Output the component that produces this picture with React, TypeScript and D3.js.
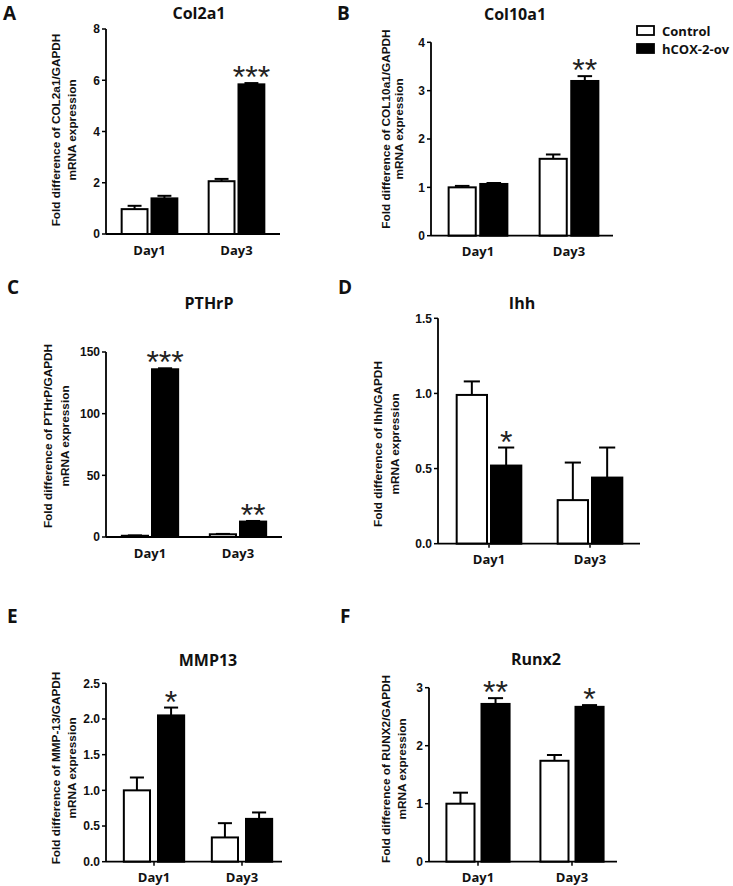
import React from "react";
import * as d3 from "d3";

const days = ["Day1", "Day3"];
const seriesNames = ["Control", "hCOX-2-ov"];
const titles = ["Col2a1", "Col10a1", "PTHrP", "Ihh", "MMP13", "Runx2"];
const letters = ["A", "B", "C", "D", "E", "F"];
const yLabels = [
  "Fold difference of COL2a1/GAPDH",
  "Fold difference of COL10a1/GAPDH",
  "Fold difference of PTHrP/GAPDH",
  "Fold difference of Ihh/GAPDH",
  "Fold difference of MMP-13/GAPDH",
  "Fold difference of RUNX2/GAPDH",
];
const yLabel2 = "mRNA expression";
const controlMean = [[0.97, 2.06], [1.0, 1.59], [1.0, 2.2], [0.99, 0.29], [1.0, 0.34], [1.0, 1.74]];
const controlSem = [[0.13, 0.09], [0.03, 0.09], [0.3, 0.3], [0.09, 0.25], [0.18, 0.2], [0.19, 0.1]];
const hcoxMean = [[1.39, 5.84], [1.07, 3.2], [136, 12.5], [0.52, 0.44], [2.05, 0.6], [2.72, 2.67]];
const hcoxSem = [[0.1, 0.05], [0.02, 0.1], [0.8, 0.5], [0.12, 0.2], [0.11, 0.09], [0.1, 0.03]];
const stars = [["", "***"], ["", "**"], ["***", "**"], ["*", ""], ["*", ""], ["**", "*"]];
const yTicks = [[0, 2, 4, 6, 8], [0, 1, 2, 3, 4], [0, 50, 100, 150], [0, 0.5, 1.0, 1.5], [0, 0.5, 1.0, 1.5, 2.0, 2.5], [0, 1, 2, 3]];
const yTickLabels = [
  ["0", "2", "4", "6", "8"],
  ["0", "1", "2", "3", "4"],
  ["0", "50", "100", "150"],
  ["0.0", "0.5", "1.0", "1.5"],
  ["0.0", "0.5", "1.0", "1.5", "2.0", "2.5"],
  ["0", "1", "2", "3"],
];

// layout (positions only)
const layout = [
  { x0: 106, x1: 280, yT: 29, yB: 234, shift: 0, gap: 2, xTicks: false, tX: 199, tY: 18.5, lX: 3, lY: 20, l1: 56, l2: 72, lC: 130 },
  { x0: 431, x1: 613, yT: 42.3, yB: 235.7, shift: 1.5, gap: 2.5, xTicks: false, tX: 515, tY: 20, lX: 337, lY: 20, l1: 386, l2: 399, lC: 129 },
  { x0: 106, x1: 282, yT: 352, yB: 537, shift: 0, gap: 2, xTicks: false, tX: 209, tY: 309, lX: 7, lY: 294, l1: 48, l2: 65, lC: 436 },
  { x0: 438, x1: 640, yT: 318.3, yB: 543.7, shift: 0.5, gap: 2, xTicks: true, tX: 522, tY: 309, lX: 338, lY: 294, l1: 378, l2: 395, lC: 444 },
  { x0: 106, x1: 282, yT: 683.3, yB: 861.7, shift: 4, gap: 6, xTicks: true, tX: 208, tY: 666, lX: 7, lY: 623, l1: 56, l2: 72, lC: 768 },
  { x0: 429, x1: 617, yT: 687.7, yB: 861.7, shift: 2, gap: 5, xTicks: true, tX: 536, tY: 665, lX: 340, lY: 623, l1: 386, l2: 402, lC: 769 },
];

const CAL = "'Open Sans', 'Noto Sans', sans-serif";
const ARIAL = "'Liberation Sans', Arial, sans-serif";

function Panel({ i }: { i: number }) {
  const L = layout[i];
  const ticks = yTicks[i];
  const y = d3.scaleLinear().domain([0, d3.max(ticks) as number]).range([L.yB, L.yT]);
  const x = d3.scalePoint<string>().domain(days).range([L.x0 + L.shift, L.x1 + L.shift]).padding(0.5);
  const step = x.step();
  const bw = step * 0.32;
  const sw = 2;
  const groups = [
    { mean: controlMean[i], sem: controlSem[i], fill: "#fff", side: -1 },
    { mean: hcoxMean[i], sem: hcoxSem[i], fill: "#000", side: 1 },
  ];
  return (
    <g>
      <text x={L.lX} y={L.lY} fontFamily={CAL} fontWeight="bold" fontSize={19} fill="#111">{letters[i]}</text>
      <text x={L.tX} y={L.tY} textAnchor="middle" fontFamily={CAL} fontWeight="bold" fontSize={16} fill="#111">{titles[i]}</text>
      <g transform={`translate(${L.l1},${L.lC}) rotate(-90)`}>
        <text textAnchor="middle" dominantBaseline="central" fontFamily={ARIAL} fontWeight="bold" fontSize={11.8} fill="#111">{yLabels[i]}</text>
      </g>
      <g transform={`translate(${L.l2},${L.lC}) rotate(-90)`}>
        <text textAnchor="middle" dominantBaseline="central" fontFamily={ARIAL} fontWeight="bold" fontSize={11.8} fill="#111">{yLabel2}</text>
      </g>
      {/* bars */}
      {days.map((d, di) => {
        const cx = x(d) as number;
        return groups.map((g, gi) => {
          const bx = g.side < 0 ? cx - L.gap / 2 - bw : cx + L.gap / 2;
          const top = y(g.mean[di]);
          const errTop = y(g.mean[di] + g.sem[di]);
          const mid = bx + bw / 2;
          return (
            <g key={`${di}-${gi}`}>
              <line x1={mid} x2={mid} y1={top} y2={errTop} stroke="#000" strokeWidth={sw} />
              <line x1={mid - bw / 4} x2={mid + bw / 4} y1={errTop} y2={errTop} stroke="#000" strokeWidth={sw} />
              <rect x={bx + sw / 2} y={top} width={bw - sw} height={Math.max(0, L.yB - top)} fill={g.fill} stroke="#000" strokeWidth={sw} />
            </g>
          );
        });
      })}
      {/* stars */}
      {days.map((d, di) => {
        const s = stars[i][di];
        if (!s) return null;
        const cx = (x(d) as number) + L.gap / 2 + bw / 2;
        const errTop = y(hcoxMean[i][di] + hcoxSem[i][di]);
        const cy = errTop - 13;
        return (
          <text key={`s${di}`} x={cx} y={cy + 18} textAnchor="middle" fontFamily={ARIAL} fontSize={32} fill="#222">{s}</text>
        );
      })}
      {/* y axis */}
      <line x1={L.x0} x2={L.x0} y1={y(d3.max(ticks) as number)} y2={L.yB} stroke="#000" strokeWidth={1.8} />
      {ticks.map((t, ti) => (
        <g key={`t${ti}`}>
          <line x1={L.x0 - 4} x2={L.x0} y1={y(t)} y2={y(t)} stroke="#000" strokeWidth={1.5} />
          <text x={L.x0 - 6} y={y(t)} dy="0.36em" textAnchor="end" fontFamily={ARIAL} fontWeight="bold" fontSize={12} fill="#111">{yTickLabels[i][ti]}</text>
        </g>
      ))}
      {/* x axis */}
      <line x1={L.x0} x2={L.x1} y1={L.yB} y2={L.yB} stroke="#000" strokeWidth={1.8} />
      {days.map((d) => (
        <g key={d}>
          {L.xTicks && <line x1={x(d)} x2={x(d)} y1={L.yB} y2={L.yB + 4} stroke="#000" strokeWidth={1.5} />}
          <text x={x(d)} y={L.yB + 20.5} textAnchor="middle" fontFamily={CAL} fontWeight="bold" fontSize={13} fill="#111">{d}</text>
        </g>
      ))}
    </g>
  );
}

function Legend() {
  const fills = ["#fff", "#000"];
  const ys = [26, 44];
  return (
    <g>
      {seriesNames.map((s, i) => (
        <g key={s}>
          <rect x={637} y={ys[i]} width={17} height={9} fill={fills[i]} stroke="#000" strokeWidth={1.8} />
          <text x={662} y={ys[i] + 9.5} fontFamily={CAL} fontWeight="bold" fontSize={13} fill="#111">{s}</text>
        </g>
      ))}
    </g>
  );
}

export default function App() {
  return (
    <div style={{ position: "absolute", left: 0, top: 0 }}>
      <svg width={733} height={886} viewBox="0 0 733 886" style={{ display: "block", background: "#fff" }}>
        <rect width={733} height={886} fill="#fff" />
        {layout.map((_, i) => <Panel key={i} i={i} />)}
        <Legend />
      </svg>
    </div>
  );
}
